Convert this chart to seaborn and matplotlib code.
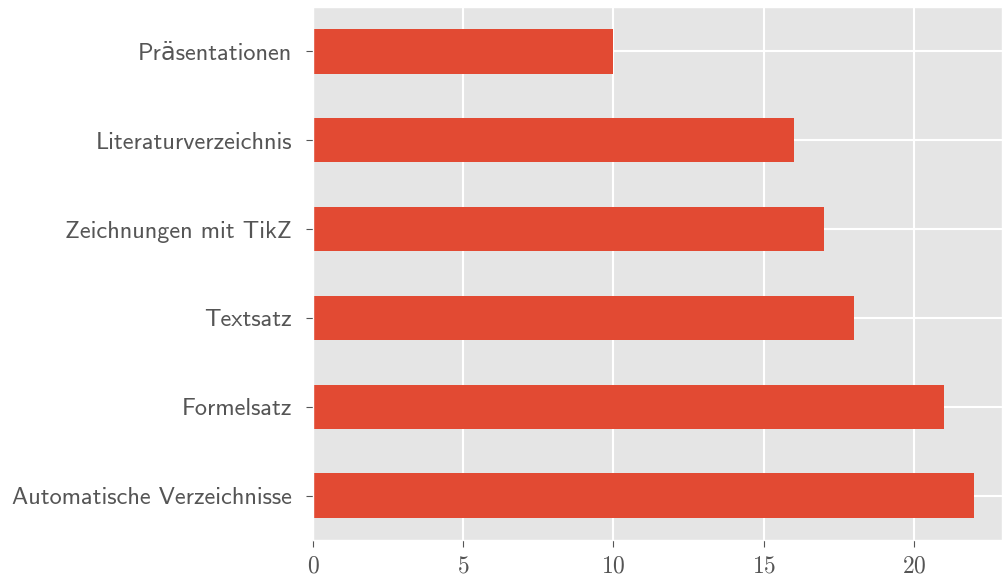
import matplotlib
matplotlib.use("Agg")
import matplotlib.pyplot as plt
import seaborn as sns
import pandas as pd

categories = ['Automatische Verzeichnisse', 'Formelsatz', 'Textsatz',
              'Zeichnungen mit TikZ', 'Literaturverzeichnis', 'Präsentationen']
counts = [22, 21, 18, 17, 16, 10]
x_ticks = [0, 5, 10, 15, 20]

plt.style.use('ggplot')
plt.rcParams['axes.formatter.use_mathtext'] = True

df = pd.DataFrame({'topic': categories, 'count': counts})

fig = plt.figure(figsize=(10.02, 5.8), dpi=100)
ax = fig.add_axes([313 / 1002, 40 / 580, 1 - 313 / 1002, 533 / 580])
sns.barplot(data=df, x='count', y='topic', orient='h', color='#E24A33',
            saturation=1, width=0.5, ax=ax, order=categories)
ax.invert_yaxis()
ax.set_xlim(0, 22.93)
ax.set_ylim(-0.5, 5.5)
ax.set_xticks(x_ticks)
ax.set_xlabel('')
ax.set_ylabel('')
ax.set_axisbelow(True)
ax.grid(True, color='white', linewidth=1.5)
ax.tick_params(axis='both', colors='#555555', labelcolor='#555555', length=5)
ax.tick_params(axis='y', pad=10)
ax.tick_params(axis='x', pad=6)
for lab in ax.get_yticklabels():
    lab.set_family(['cmss10', 'DejaVu Sans'])
    lab.set_fontsize(17.5)
for lab in ax.get_xticklabels():
    lab.set_family(['cmr10', 'DejaVu Serif'])
    lab.set_fontsize(17)

fig.savefig('out.png', dpi=100)
